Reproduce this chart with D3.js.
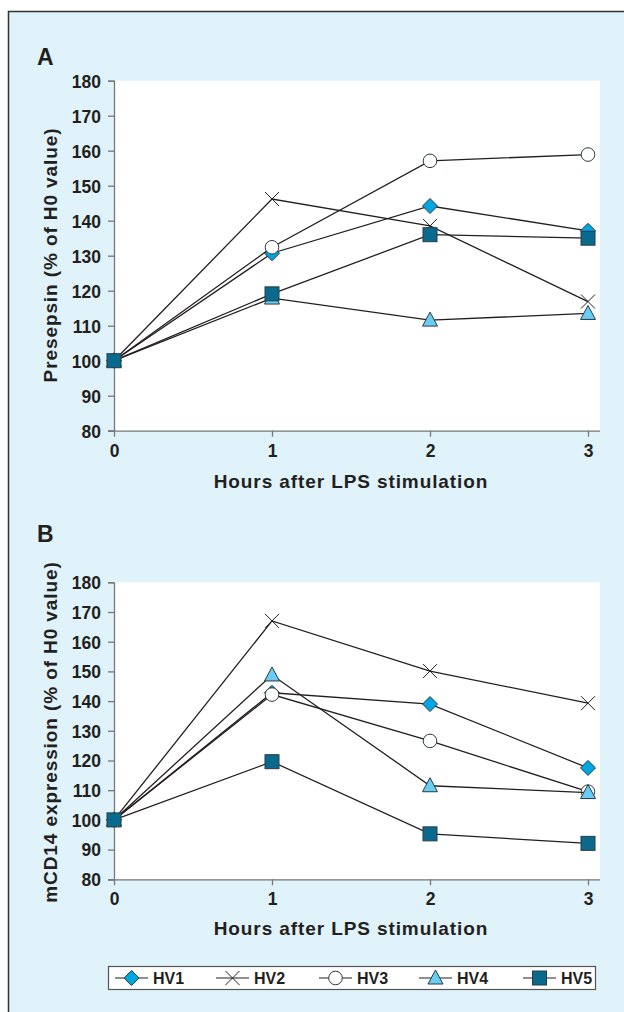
<!DOCTYPE html>
<html>
<head>
<meta charset="utf-8">
<script src="https://cdn.jsdelivr.net/npm/d3@7"></script>
<style>
  body { margin: 0; background: #fff; }
  text { font-family: "Liberation Sans", Arial, sans-serif; font-weight: bold; fill: #231f20; }
</style>
</head>
<body>
<div id="container"></div>
<script>
// data
var hours = [0, 1, 2, 3];
var series = ["HV1", "HV2", "HV3", "HV4", "HV5"];
var yTicks = [80, 90, 100, 110, 120, 130, 140, 150, 160, 170, 180];

// panel A : presepsin
var presHV1 = [100, 130.7, 144.2, 137.1];
var presHV2 = [100, 146.2, 138.5, 116.9];
var presHV3 = [100, 132.4, 157.1, 158.9];
var presHV4 = [100, 117.9, 111.6, 113.5];
var presHV5 = [100, 119.1, 136.0, 135.0];

// panel B : mCD14
var cdHV1 = [100, 142.8, 139.0, 117.5];
var cdHV2 = [100, 167.0, 150.1, 139.3];
var cdHV3 = [100, 142.2, 126.6, 109.5];
var cdHV4 = [100, 148.8, 111.5, 109.2];
var cdHV5 = [100, 119.6, 95.3, 92.1];

var width = 624, height = 1012;

var markerStyle = {
    HV1: {shape: "diamond", fill: "#00a6e2"},
    HV2: {shape: "x", fill: "none"},
    HV3: {shape: "circle", fill: "#ffffff"},
    HV4: {shape: "triangle", fill: "#69cdf2"},
    HV5: {shape: "square", fill: "#0a6a8e"}
};

function drawMarker(g, shape, fill) {
    var stroke = "#2a3b44";
    if (shape == "square") {
        g.append("rect").attr("x", -7).attr("y", -7).attr("width", 14).attr("height", 14)
            .attr("fill", fill).attr("stroke", stroke).attr("stroke-width", 1);
    } else if (shape == "diamond") {
        g.append("path").attr("d", "M0,-7.5L7.5,0L0,7.5L-7.5,0Z")
            .attr("fill", fill).attr("stroke", stroke).attr("stroke-width", 1);
    } else if (shape == "circle") {
        g.append("circle").attr("r", 6.8)
            .attr("fill", fill).attr("stroke", stroke).attr("stroke-width", 1);
    } else if (shape == "triangle") {
        g.append("path").attr("d", "M0,-8L7.5,6L-7.5,6Z")
            .attr("fill", fill).attr("stroke", stroke).attr("stroke-width", 1);
    } else if (shape == "x") {
        g.append("path").attr("d", "M-7,-7L7,7M-7,7L7,-7")
            .attr("fill", "none").attr("stroke", "#231f20").attr("stroke-width", 1);
    }
}

var svg = d3.select("#container").append("svg")
    .attr("width", width)
    .attr("height", height);

// light blue box behind everything
svg.append("rect")
    .attr("x", 8.5).attr("y", 11.5)
    .attr("width", 640).attr("height", 1020)
    .attr("fill", "#e0f2fa")
    .attr("stroke", "#333").attr("stroke-width", 1.5);

function panel(letter, data, top, bottom, yTitle, yTitleY, letterY, xTickY, xTitleY) {
    var x = d3.scaleLinear().domain([0, 3]).range([114, 588]);
    var y = d3.scaleLinear().domain([80, 180]).range([bottom, top]);

    var g = svg.append("g");

    g.append("rect")
        .attr("x", 114).attr("y", top)
        .attr("width", 600 - 114).attr("height", bottom - top)
        .attr("fill", "#fff");

    // y axis
    var yAxis = d3.axisLeft(y).tickValues(yTicks).tickSize(6).tickPadding(7);
    var ya = g.append("g").attr("transform", "translate(114,0)").call(yAxis);
    ya.select(".domain").attr("stroke", "#777").attr("stroke-width", 1.3);
    ya.selectAll(".tick line").attr("stroke", "#777").attr("stroke-width", 1.3);
    ya.selectAll("text").style("font-size", "17.5px").style("font-family", "Liberation Sans, Arial, sans-serif")
        .attr("fill", "#231f20").attr("dy", "0.36em");

    // x axis
    var xAxis = d3.axisBottom(x).tickValues(hours).tickSize(6).tickPadding(0).tickFormat(d3.format("d"));
    var xa = g.append("g").attr("transform", "translate(0," + bottom + ")").call(xAxis);
    xa.select(".domain").attr("d", "M108,0.5H600").attr("stroke", "#777").attr("stroke-width", 1.3);
    xa.selectAll(".tick line").attr("stroke", "#777").attr("stroke-width", 1.3);
    xa.selectAll("text").style("font-size", "17.5px").style("font-family", "Liberation Sans, Arial, sans-serif")
        .attr("fill", "#231f20").attr("y", xTickY - bottom).attr("dy", 0);

    // titles
    g.append("text").attr("x", 351).attr("y", xTitleY)
        .attr("text-anchor", "middle").style("font-size", "19px").style("letter-spacing", "0.9px")
        .text("Hours after LPS stimulation");

    g.append("text")
        .attr("transform", "translate(57," + yTitleY + ") rotate(-90)")
        .attr("text-anchor", "middle").style("font-size", "19px").style("letter-spacing", "0.9px")
        .text(yTitle);

    g.append("text").attr("x", 37).attr("y", letterY)
        .style("font-size", "23px")
        .text(letter);

    var line = d3.line()
        .x(function(d, i) { return x(hours[i]); })
        .y(function(d) { return y(d); });

    series.forEach(function(s, k) {
        var vals = data[k];
        g.append("path")
            .attr("d", line(vals))
            .attr("fill", "none")
            .attr("stroke", "#231f20")
            .attr("stroke-width", 1.3);
        vals.forEach(function(v, i) {
            var m = g.append("g").attr("transform", "translate(" + x(hours[i]) + "," + y(v) + ")");
            drawMarker(m, markerStyle[s].shape, markerStyle[s].fill);
        });
    });
}

panel("A", [presHV1, presHV2, presHV3, presHV4, presHV5], 80.7, 430.7,
    "Presepsin (% of H0 value)", 255, 65, 457, 488);
panel("B", [cdHV1, cdHV2, cdHV3, cdHV4, cdHV5], 582.3, 879.3,
    "mCD14 expression (% of H0 value)", 732, 542, 905, 935);

// legend
var legend = svg.append("g");
legend.append("rect")
    .attr("x", 108.5).attr("y", 966.5).attr("width", 487).attr("height", 23)
    .attr("fill", "#fff").attr("stroke", "#555").attr("stroke-width", 1.2);

var legendX = [115, 216, 319, 419, 523];
series.forEach(function(s, i) {
    var lg = legend.append("g").attr("transform", "translate(" + legendX[i] + ",978)");
    lg.append("line").attr("x1", 0).attr("x2", 33).attr("y1", 0).attr("y2", 0)
        .attr("stroke", "#231f20").attr("stroke-width", 1.2);
    var m = lg.append("g").attr("transform", "translate(16.5,0)");
    drawMarker(m, markerStyle[s].shape, markerStyle[s].fill);
    lg.append("text").attr("x", 38).attr("y", 5.5)
        .style("font-size", "16px").text(s);
});
</script>
</body>
</html>
